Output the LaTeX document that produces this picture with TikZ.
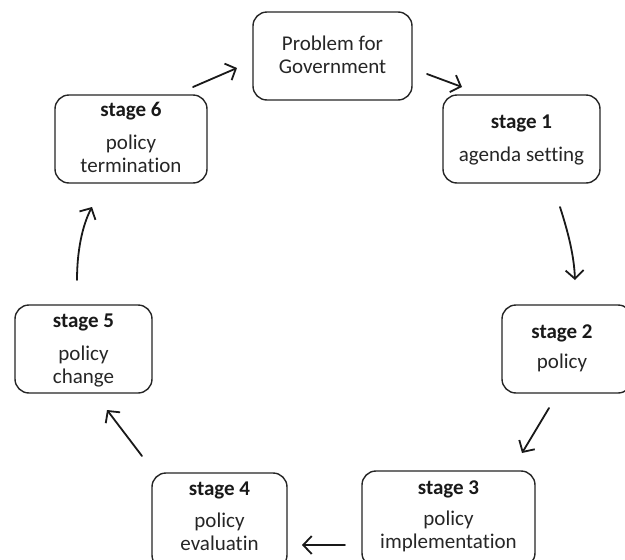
\documentclass[tikz,border=0pt]{standalone}
\usepackage{fontspec}
\setmainfont[Ligatures=NoCommon]{Carlito}
\usetikzlibrary{arrows.meta}

\tikzset{
  box/.style={draw=black!85, line width=1.4pt, rounded corners=14pt, fill=white, inner sep=0pt},
  ttl/.style={anchor=base, inner sep=0pt, font=\fontsize{21}{23}\selectfont\bfseries, text=black!90},
  % multi-line texts: base anchor sits on the last line
  body/.style={anchor=base, inner sep=0pt, align=center, font=\fontsize{21}{23}\selectfont, text=black!85},
  flow/.style={line width=1.8pt, draw=black!90, line cap=round,
    -{Straight Barb[length=8.5pt, width=18pt, line width=1.8pt]}}
}

\begin{document}
\begin{tikzpicture}[x=1pt, y=-1pt]
\clip (0,0) rectangle (625,560);
\fill[white] (0,0) rectangle (625,560);

% boxes
\node[box, minimum width=159pt, minimum height=88pt] (prob) at (332.5,56) {};
\node[box, minimum width=157pt, minimum height=88pt] (s1) at (521.5,139) {};
\node[box, minimum width=130pt, minimum height=88pt] (s2) at (567,349) {};
\node[box, minimum width=173pt, minimum height=96pt] (s3) at (448.5,519) {};
\node[box, minimum width=135pt, minimum height=96pt] (s4) at (219.5,521) {};
\node[box, minimum width=137pt, minimum height=88pt] (s5) at (83.5,349) {};
\node[box, minimum width=152pt, minimum height=88pt] (s6) at (131,139) {};

% texts
\node[body] (probt) at (332.5,73) {Problem for\\Government};

\node[ttl] (s1a) at (521.5,128) {stage 1};
\node[body] (s1b) at (521.5,161) {agenda setting};

\node[ttl] (s2a) at (562,338) {stage 2};
\node[body] (s2b) at (562,368) {policy};

\node[ttl] (s3a) at (448.5,494) {stage 3};
\node[body] (s3b) at (448.5,548) {policy\\implementation};

\node[ttl] (s4a) at (219.5,495) {stage 4};
\node[body] (s4b) at (219.5,550) {policy\\evaluatin};

\node[ttl] (s5a) at (83.5,327) {stage 5};
\node[body] (s5b) at (83.5,383) {policy\\change};

\node[ttl] (s6a) at (131,116) {stage 6};
\node[body] (s6b) at (131,172) {policy\\termination};

% arrow ends
\coordinate (a1s) at (427,74);  \coordinate (a1e) at (462,87);
\coordinate (a2s) at (560,207); \coordinate (a2e) at (575,280);
\coordinate (a3s) at (549,408); \coordinate (a3e) at (522,453);
\coordinate (a4s) at (345,545); \coordinate (a4e) at (302,545);
\coordinate (a5s) at (142,456); \coordinate (a5e) at (107,410);
\coordinate (a6s) at (77,280);  \coordinate (a6e) at (92,207);
\coordinate (a7s) at (193,87);  \coordinate (a7e) at (237,68);

% cycle arrows
\draw[flow] (a1s) -- (a1e);
\draw[flow] (a2s) .. controls (568,232) and (574,255) .. (a2e);
\draw[flow] (a3s) -- (a3e);
\draw[flow] (a4s) -- (a4e);
\draw[flow] (a5s) -- (a5e);
\draw[flow] (a6s) .. controls (77,252) and (82,226) .. (a6e);
\draw[flow] (a7s) -- (a7e);
\end{tikzpicture}
\end{document}
